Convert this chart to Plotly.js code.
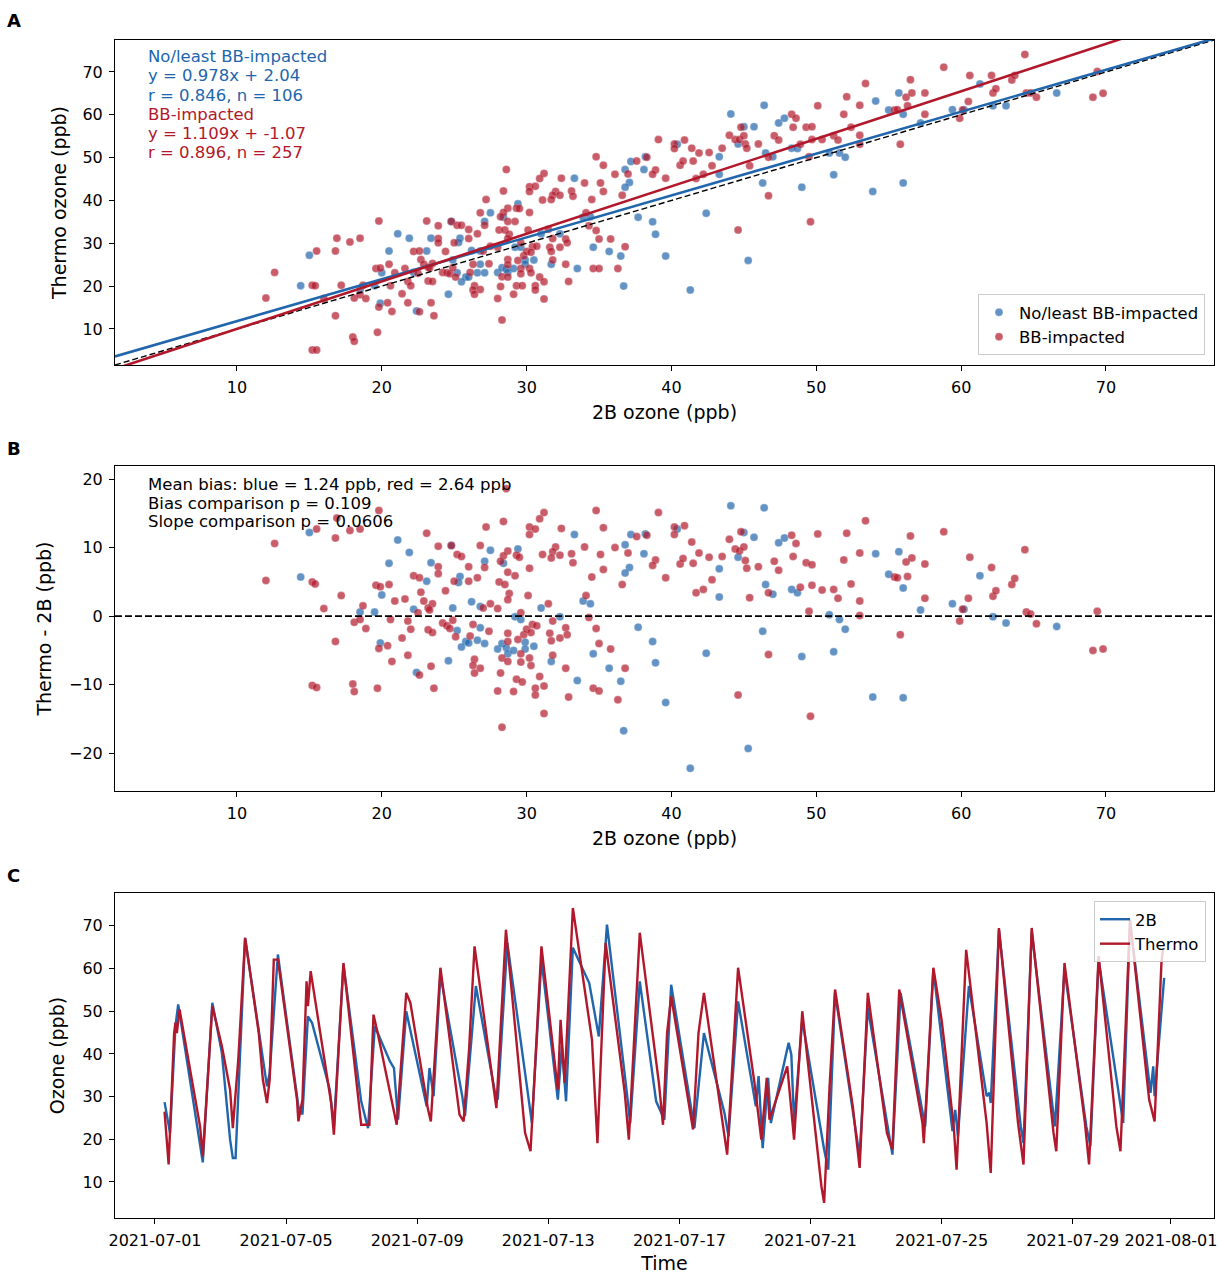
<!DOCTYPE html>
<html>
<head>
<meta charset="utf-8">
<script src="https://cdn.plot.ly/plotly-3.0.1.min.js"></script>
<style>html,body{margin:0;padding:0;background:#fff;}#chart{width:1220px;height:1274px;}</style>
</head>
<body>
<div id="chart"></div>
<script>
// ---------- Panel A / B data (2B ozone and Thermo - 2B difference, ppb) ----------
const blue2B = [15.0,14.4,20.5,20.0,18.5,19.5,19.9,21.1,21.9,23.4,
24.8,27.5,29.4,28.4,27.1,33.3,37.2,36.8,38.2,38.1,
37.1,36.8,23.1,25.4,25.3,26.2,24.9,26.8,22.2,33.9,
34.4,31.0,32.3,29.2,29.6,25.2,26.8,25.8,25.5,26.0,
26.6,27.1,28.0,28.3,28.6,28.7,29.1,29.9,29.9,30.5,
31.7,24.6,22.4,34.6,35.7,36.5,37.7,38.7,38.9,33.5,
36.7,39.6,40.4,44.1,46.4,45.0,45.7,47.4,47.8,44.6,
43.3,43.3,46.5,47.0,48.3,48.7,50.9,51.6,52.0,54.1,
55.0,55.7,56.0,57.2,46.3,51.2,49.0,42.4,53.9,56.0,
45.3,41.3,59.4,61.3,62.2,63.1,66.6,60.2];
const blueDiff = [12.2,5.7,7.7,3.1,0.6,0.6,-3.9,11.1,9.3,7.8,
10.3,9.6,9.8,7.7,8.0,11.9,11.9,10.4,12.0,9.1,
7.1,6.3,5.1,5.8,4.9,2.1,1.2,1.4,1.0,2.2,
1.8,1.2,-0.1,-0.1,-0.5,-2.1,-1.7,-3.7,-4.5,-3.9,
-3.5,-4.0,-4.8,-4.0,-4.6,-5.5,-5.0,-3.8,-4.8,-4.4,
-6.6,-6.5,-8.2,-5.5,-7.6,-9.5,-1.6,-3.7,-6.8,-9.4,
-16.7,-12.6,12.7,16.1,15.8,12.2,11.5,10.7,11.4,8.6,
6.9,2.8,4.6,3.2,3.9,3.4,0.2,-0.5,-1.9,9.1,
6.1,9.4,4.1,0.9,-2.2,-5.2,-5.9,-5.4,-11.8,-11.9,
-19.3,-22.2,1.8,5.9,-0.1,-1.0,-1.5,1.0];

const red2B = [19.8,16.9,15.5,16.8,17.8,18.5,12.6,12.0,15.2,15.4,
19.6,19.9,20.5,17.2,18.7,16.0,18.1,18.5,18.9,16.8,
19.8,20.4,20.7,15.2,15.5,18.0,18.1,19.7,20.6,20.9,
28.6,34.8,39.1,31.2,30.9,28.4,30.2,30.6,30.2,27.2,
32.4,35.3,23.1,23.9,24.8,26.8,28.7,28.4,28.2,29.3,
29.5,32.0,31.8,31.7,31.1,32.3,33.1,33.2,34.0,35.1,
36.1,37.0,37.6,38.3,38.9,38.7,39.6,35.3,34.5,36.6,
25.2,25.5,23.9,23.9,26.0,26.6,26.0,27.1,25.0,22.2,
22.6,28.7,29.2,28.1,28.5,28.8,28.7,30.2,30.1,24.4,
22.7,22.9,23.5,21.6,23.2,23.3,22.5,27.5,27.0,28.0,
31.5,34.1,29.6,21.8,22.0,24.2,24.5,24.7,24.9,23.2,
23.5,26.3,27.4,26.1,25.1,28.7,28.7,29.4,29.8,30.0,
30.4,30.7,30.3,31.8,31.6,32.3,32.7,32.8,31.7,34.3,
34.8,35.0,35.8,21.4,21.8,23.4,22.6,23.6,26.4,26.3,
26.8,26.4,28.3,28.2,28.7,29.6,29.6,30.2,30.3,31.8,
32.7,29.3,29.7,30.9,30.6,31.2,30.6,28.0,29.1,32.9,
31.2,28.3,34.6,35.0,36.3,36.8,
40.2,40.2,40.9,41.4,40.6,40.8,41.5,41.9,42.6,43.5,
42.8,41.7,42.2,44.0,44.8,44.4,44.7,45.0,45.1,45.2,
46.0,45.4,46.7,47.1,47.4,48.3,48.6,48.4,49.3,49.7,
48.9,49.7,50.4,51.2,51.5,49.5,50.1,52.1,51.9,52.4,
53.0,53.0,53.0,53.4,55.4,56.3,56.2,56.6,56.5,57.5,
57.5,55.8,46.7,44.6,49.6,58.8,55.6,
60.6,62.1,64.4,60.5,60.1,59.9,62.2,62.4,63.5,63.7,
64.5,64.8,65.2,69.4,69.1,69.8];
const redDiff = [15.4,14.3,12.7,11.4,12.5,12.7,10.6,5.2,5.0,4.7,
4.5,4.3,4.6,3.0,1.5,1.1,-0.9,-0.5,-1.8,-3.7,
-4.7,-4.3,-6.6,-10.1,-10.4,-9.9,-11.0,-10.5,-0.5,2.2,
18.6,15.4,15.1,15.1,14.2,13.8,13.0,12.7,11.9,13.0,
12.8,12.9,12.1,10.2,10.3,10.3,9.5,8.8,8.0,8.9,
8.6,10.1,9.4,8.5,9.0,8.9,9.1,7.8,10.1,9.0,
10.0,9.2,11.6,11.8,8.2,7.4,5.6,6.8,5.7,4.6,
9.0,8.7,7.2,6.2,7.2,5.6,5.1,7.1,5.1,5.9,
5.6,6.4,5.9,5.0,4.6,3.3,2.4,7.0,3.0,3.7,
3.5,2.2,1.8,2.5,1.2,0.9,0.5,1.8,1.2,1.1,
1.8,3.0,0.5,-0.7,-1.9,-1.0,-1.4,-1.8,-0.6,-2.0,
-2.4,-1.2,-2.2,-2.9,-3.0,-2.5,-3.7,-3.4,-2.7,-1.9,
-1.2,-1.4,-2.4,-0.7,-2.5,-3.2,-1.7,-2.7,-3.6,-0.2,
-1.8,-4.0,-4.8,-3.2,-5.7,-7.3,-8.6,-10.5,-6.3,-7.2,
-7.6,-8.3,-6.1,-8.3,-6.6,-5.5,-6.7,-6.1,-7.2,-5.7,
-7.6,-9.2,-9.6,-8.8,-10.5,-10.2,-11.5,-10.9,-11.0,-11.8,
-14.2,-16.2,-10.5,-10.9,-12.2,-7.6,
13.0,11.9,13.2,10.8,7.6,8.4,7.7,9.2,8.6,8.7,
5.3,3.4,3.9,11.2,12.3,9.8,9.5,10.1,8.1,7.0,
7.2,2.7,3.4,8.0,6.7,11.8,10.6,8.7,7.8,7.5,
4.2,4.5,3.8,3.9,2.6,0.7,12.0,12.1,8.2,4.7,
9.2,2.2,0.1,13.9,5.7,5.8,7.9,8.5,11.7,7.6,
2.6,-2.7,-5.6,-11.5,-14.6,12.3,5.6,
8.6,7.1,9.7,2.6,1.0,-0.7,2.9,3.7,4.6,5.5,
0.6,0.3,-1.1,0.7,-5.0,-4.8];

// regression fits [No/least BB-impacted, BB-impacted]
const fitSlope = [0.978, 1.109];
const fitIntercept = [2.04, -1.07];

// ---------- Panel C data (time series, ppb) ----------
const time2B = ['2021-07-01 07:00','2021-07-01 11:00','2021-07-01 15:00','2021-07-01 17:00','2021-07-02 11:00','2021-07-02 18:00',
'2021-07-03 01:00','2021-07-03 07:00','2021-07-03 09:00','2021-07-03 11:00','2021-07-03 18:00','2021-07-04 09:00',
'2021-07-04 10:00','2021-07-04 12:00','2021-07-04 18:00','2021-07-05 09:00','2021-07-05 12:00','2021-07-05 16:00',
'2021-07-05 19:00','2021-07-06 08:00','2021-07-06 11:00','2021-07-06 18:00','2021-07-07 07:00','2021-07-07 12:00',
'2021-07-07 17:00','2021-07-08 04:00','2021-07-08 07:00','2021-07-08 10:00','2021-07-08 16:00','2021-07-09 07:00',
'2021-07-09 09:00','2021-07-09 12:00','2021-07-09 17:00','2021-07-10 09:00','2021-07-10 11:00','2021-07-10 19:00',
'2021-07-11 09:00','2021-07-11 11:00','2021-07-11 18:00','2021-07-12 08:00','2021-07-12 12:00','2021-07-12 19:00',
'2021-07-13 07:00','2021-07-13 10:00','2021-07-13 13:00','2021-07-13 18:00','2021-07-14 06:00','2021-07-14 13:00',
'2021-07-14 19:00','2021-07-15 09:00','2021-07-15 12:00','2021-07-15 19:00','2021-07-16 07:00','2021-07-16 13:00',
'2021-07-16 18:00','2021-07-17 11:00','2021-07-17 18:00','2021-07-18 09:00','2021-07-18 12:00','2021-07-18 19:00',
'2021-07-19 08:00','2021-07-19 10:00','2021-07-19 13:00','2021-07-19 17:00','2021-07-19 19:00','2021-07-20 08:00',
'2021-07-20 10:00','2021-07-20 12:00','2021-07-20 18:00','2021-07-21 10:00','2021-07-21 13:00','2021-07-21 18:00',
'2021-07-22 12:00','2021-07-22 18:00','2021-07-23 12:00','2021-07-23 18:00','2021-07-24 12:00','2021-07-24 18:00',
'2021-07-25 08:00','2021-07-25 10:00','2021-07-25 12:00','2021-07-25 20:00','2021-07-26 09:00','2021-07-26 11:00',
'2021-07-26 12:00','2021-07-26 18:00','2021-07-27 10:00','2021-07-27 12:00','2021-07-27 18:00','2021-07-28 11:00',
'2021-07-28 18:00','2021-07-29 10:00','2021-07-29 13:00','2021-07-29 19:00','2021-07-30 10:00','2021-07-30 13:00',
'2021-07-30 18:00','2021-07-31 09:00','2021-07-31 11:00','2021-07-31 12:00','2021-07-31 19:00'];
const ozone2B = [28.7,21.5,46.5,51.6,14.6,52.0,
40.2,19.9,15.6,15.6,67.2,35.5,
32.4,35.5,63.3,27.7,25.8,48.8,
47.3,31.6,23.0,60.9,28.9,22.6,
46.5,38.3,36.7,24.6,50.0,27.7,
36.7,30.1,58.6,30.1,25.4,55.9,
30.9,29.3,66.0,33.2,23.8,62.1,
29.3,41.8,28.9,64.9,56.6,44.1,
70.3,32.4,23.8,57.0,28.9,24.6,
56.2,22.6,44.9,26.2,20.7,52.3,
27.7,34.8,17.9,34.4,23.8,42.6,
39.8,23.8,48.0,17.6,12.9,54.3,
16.0,50.8,16.4,54.3,23.0,59.8,
21.9,26.9,20.7,55.9,30.1,30.9,
28.5,69.1,23.0,19.1,68.7,23.0,
59.8,23.0,18.4,62.1,30.9,23.8,
71.1,30.9,37.1,30.1,57.8];

const timeThermo = ['2021-07-01 07:00','2021-07-01 10:00','2021-07-01 14:00','2021-07-01 15:00','2021-07-01 16:00','2021-07-01 18:00',
'2021-07-02 09:00','2021-07-02 11:00','2021-07-02 18:00','2021-07-03 01:00','2021-07-03 07:00','2021-07-03 09:00',
'2021-07-03 13:00','2021-07-03 18:00','2021-07-04 04:00','2021-07-04 07:00','2021-07-04 10:00','2021-07-04 12:00',
'2021-07-04 15:00','2021-07-04 18:00','2021-07-05 08:00','2021-07-05 09:00','2021-07-05 12:00','2021-07-05 15:00',
'2021-07-05 16:00','2021-07-05 18:00','2021-07-06 09:00','2021-07-06 11:00','2021-07-06 18:00','2021-07-07 06:00',
'2021-07-07 07:00','2021-07-07 13:00','2021-07-07 16:00','2021-07-07 19:00','2021-07-08 04:00','2021-07-08 09:00',
'2021-07-08 16:00','2021-07-08 19:00','2021-07-09 08:00','2021-07-09 10:00','2021-07-09 17:00','2021-07-10 07:00',
'2021-07-10 10:00','2021-07-10 14:00','2021-07-10 18:00','2021-07-11 08:00','2021-07-11 10:00','2021-07-11 17:00',
'2021-07-12 07:00','2021-07-12 11:00','2021-07-12 19:00','2021-07-13 07:00','2021-07-13 09:00','2021-07-13 12:00',
'2021-07-13 18:00','2021-07-14 08:00','2021-07-14 12:00','2021-07-14 18:00','2021-07-15 08:00','2021-07-15 11:00',
'2021-07-15 19:00','2021-07-16 09:00','2021-07-16 12:00','2021-07-16 15:00','2021-07-16 18:00','2021-07-17 10:00',
'2021-07-17 14:00','2021-07-17 18:00','2021-07-18 11:00','2021-07-18 19:00','2021-07-19 07:00','2021-07-19 12:00',
'2021-07-19 16:00','2021-07-19 18:00','2021-07-20 07:00','2021-07-20 12:00','2021-07-20 18:00','2021-07-21 08:00',
'2021-07-21 10:00','2021-07-21 14:00','2021-07-21 18:00','2021-07-22 07:00','2021-07-22 12:00','2021-07-22 18:00',
'2021-07-23 08:00','2021-07-23 12:00','2021-07-23 17:00','2021-07-24 10:00','2021-07-24 11:00','2021-07-24 18:00',
'2021-07-25 00:00','2021-07-25 03:00','2021-07-25 09:00','2021-07-25 11:00','2021-07-25 18:00','2021-07-26 09:00',
'2021-07-26 12:00','2021-07-26 18:00','2021-07-27 08:00','2021-07-27 12:00','2021-07-27 18:00','2021-07-28 10:00',
'2021-07-28 12:00','2021-07-28 18:00','2021-07-29 09:00','2021-07-29 12:00','2021-07-29 19:00','2021-07-30 08:00',
'2021-07-30 11:00','2021-07-30 18:00','2021-07-31 08:00','2021-07-31 12:00','2021-07-31 17:00','2021-07-31 18:00'];
const ozoneThermo = [26.5,14.1,44.9,47.3,44.9,50.4,
23.0,16.0,51.2,41.8,31.6,22.6,
38.7,67.2,44.9,34.0,28.5,34.0,
62.1,62.1,29.3,24.2,29.3,57.0,
51.2,59.4,28.5,21.1,61.3,26.2,
23.4,23.4,49.2,45.0,30.9,23.4,
54.3,52.0,26.9,24.2,60.2,25.8,
24.2,41.0,65.2,31.6,27.3,69.1,
21.5,17.2,65.2,31.6,48.0,33.2,
74.2,43.3,19.1,66.0,30.9,19.9,
68.4,33.2,23.4,44.9,53.5,22.3,
44.9,54.3,16.4,60.2,33.2,19.9,
34.4,24.6,37.1,19.9,50.0,9.0,
5.1,32.4,55.1,27.7,13.3,54.3,
21.5,17.6,55.1,23.8,19.1,60.2,
48.0,40.0,22.6,12.9,64.4,23.8,
12.1,69.5,23.8,14.1,69.5,21.5,
17.2,61.3,23.8,14.1,62.9,23.0,
17.2,71.5,29.3,24.2,61.3,64.4];

// tick labels
const ozoneTicks = [10,20,30,40,50,60,70];
const biasTicks = [-20,-10,0,10,20];
const biasTickText = ['\u221220','\u221210','0','10','20'];
const dateTicks = ['2021-07-01','2021-07-05','2021-07-09','2021-07-13','2021-07-17','2021-07-21','2021-07-25','2021-07-29','2021-08-01'];

// ---------- styling ----------
const BLUE = '#2166ac', RED = '#b2182b';
const FONT = 'DejaVu Sans, Verdana, sans-serif';
const ozRange = [1.58, 77.46];

const blueThermo = blue2B.map((x, i) => x + blueDiff[i]);
const redThermo = red2B.map((x, i) => x + redDiff[i]);

const mk = (c) => ({color: c, size: 8, opacity: 0.7, line: {width: 0.5, color: 'rgba(255,255,255,0.6)'}});

const traces = [
  {type:'scatter', mode:'markers', x: blue2B, y: blueThermo, name:'No/least BB-impacted', marker: mk(BLUE), xaxis:'x', yaxis:'y', legend:'legend', hoverinfo:'skip'},
  {type:'scatter', mode:'markers', x: red2B, y: redThermo, name:'BB-impacted', marker: mk(RED), xaxis:'x', yaxis:'y', legend:'legend', hoverinfo:'skip'},
  {type:'scatter', mode:'lines', x: ozRange, y: ozRange, line:{color:'#000', width:1.4, dash:'6px,3px'}, showlegend:false, xaxis:'x', yaxis:'y', hoverinfo:'skip'},
  {type:'scatter', mode:'lines', x: ozRange, y: ozRange.map(v => fitSlope[0]*v + fitIntercept[0]), line:{color:BLUE, width:2.6}, showlegend:false, xaxis:'x', yaxis:'y', hoverinfo:'skip'},
  {type:'scatter', mode:'lines', x: ozRange, y: ozRange.map(v => fitSlope[1]*v + fitIntercept[1]), line:{color:RED, width:2.6}, showlegend:false, xaxis:'x', yaxis:'y', hoverinfo:'skip'},
  {type:'scatter', mode:'markers', x: blue2B, y: blueDiff, marker: mk(BLUE), showlegend:false, xaxis:'x2', yaxis:'y2', hoverinfo:'skip'},
  {type:'scatter', mode:'markers', x: red2B, y: redDiff, marker: mk(RED), showlegend:false, xaxis:'x2', yaxis:'y2', hoverinfo:'skip'},
  {type:'scatter', mode:'lines', x: time2B, y: ozone2B, name:'2B', line:{color:BLUE, width:2.4}, xaxis:'x3', yaxis:'y3', legend:'legend2', hoverinfo:'skip'},
  {type:'scatter', mode:'lines', x: timeThermo, y: ozoneThermo, name:'Thermo', line:{color:RED, width:2.4}, xaxis:'x3', yaxis:'y3', legend:'legend2', hoverinfo:'skip'}
];

const axBase = {
  showline:true, mirror:true, linecolor:'#000', linewidth:1,
  ticks:'outside', ticklen:5, tickwidth:1, tickcolor:'#000',
  showgrid:false, zeroline:false, automargin:false, ticklabelstandoff:3,
  tickfont:{family:FONT, size:16, color:'#000'}
};
const ttl = (t, s) => ({text:t, font:{family:FONT, size:19, color:'#000'}, standoff:s});

const H = 1178, TOP = 40;
const py = (p) => (H + TOP - p) / H;   // paper y from page pixel
const px = (p) => (p - 115) / 1099;    // paper x from page pixel

const ann = [];
const addTxt = (t, xp, yp, c) => ann.push({text:t, xref:'paper', yref:'paper', x:px(xp), y:py(yp), xanchor:'left', yanchor:'middle', showarrow:false, font:{family:FONT, size:16.5, color:c}});
addTxt('No/least BB-impacted', 146, 57, BLUE);
addTxt('y = 0.978x + 2.04', 146, 76, BLUE);
addTxt('r = 0.846, n = 106', 146, 95, BLUE);
addTxt('BB-impacted', 146, 115, RED);
addTxt('y = 1.109x + -1.07', 146, 134, RED);
addTxt('r = 0.896, n = 257', 146, 153, RED);
addTxt('Mean bias: blue = 1.24 ppb, red = 2.64 ppb', 146, 484, '#000');
addTxt('Bias comparison p = 0.109', 146, 503, '#000');
addTxt('Slope comparison p = 0.0606', 146, 521, '#000');
[['A',20],['B',448],['C',875]].forEach(([l, y]) => ann.push({text:'<b>'+l+'</b>', xref:'paper', yref:'paper', x:px(5), y:py(y), xanchor:'left', yanchor:'middle', showarrow:false, font:{family:FONT, size:18, color:'#000'}}));

const layout = {
  width:1220, height:1274,
  margin:{l:115, r:6, t:TOP, b:56},
  paper_bgcolor:'#fff', plot_bgcolor:'#fff',
  font:{family:FONT, size:16, color:'#000'},
  xaxis: Object.assign({}, axBase, {domain:[0,1], anchor:'y', range:ozRange, tickvals:ozoneTicks, title:ttl('2B ozone (ppb)', 9)}),
  yaxis: Object.assign({}, axBase, {domain:[py(365), 1], anchor:'x', range:ozRange, tickvals:ozoneTicks, title:ttl('Thermo ozone (ppb)', 10)}),
  xaxis2: Object.assign({}, axBase, {domain:[0,1], anchor:'y2', range:ozRange, tickvals:ozoneTicks, title:ttl('2B ozone (ppb)', 9)}),
  yaxis2: Object.assign({}, axBase, {domain:[py(791), py(466)], anchor:'x2', range:[-25.5, 21.9], tickvals:biasTicks, ticktext:biasTickText, title:ttl('Thermo - 2B (ppb)', 12)}),
  xaxis3: Object.assign({}, axBase, {domain:[0,1], anchor:'y3', type:'date', range:['2021-06-29 18:43','2021-08-02 07:30'], tickvals:dateTicks, ticktext:dateTicks, title:ttl('Time', 16)}),
  yaxis3: Object.assign({}, axBase, {domain:[0, py(893)], anchor:'x3', range:[1.56, 77.7], tickvals:ozoneTicks, title:ttl('Ozone (ppb)', 12)}),
  shapes:[{type:'line', xref:'x2 domain', yref:'y2', x0:0, x1:1, y0:0, y1:0, line:{color:'#000', width:1.6, dash:'7px,3px'}, layer:'above'}],
  annotations: ann,
  legend:{x:px(1205), xanchor:'right', y:py(355), yanchor:'bottom', bordercolor:'#cccccc', borderwidth:1, bgcolor:'rgba(255,255,255,0.8)', font:{family:FONT, size:16.5}, tracegroupgap:0},
  legend2:{x:px(1206), xanchor:'right', y:py(901), yanchor:'top', bordercolor:'#cccccc', borderwidth:1, bgcolor:'rgba(255,255,255,0.8)', font:{family:FONT, size:16.5}, tracegroupgap:0},
  showlegend:true
};

Plotly.newPlot('chart', traces, layout, {displayModeBar:false, staticPlot:true});
</script>
</body>
</html>
